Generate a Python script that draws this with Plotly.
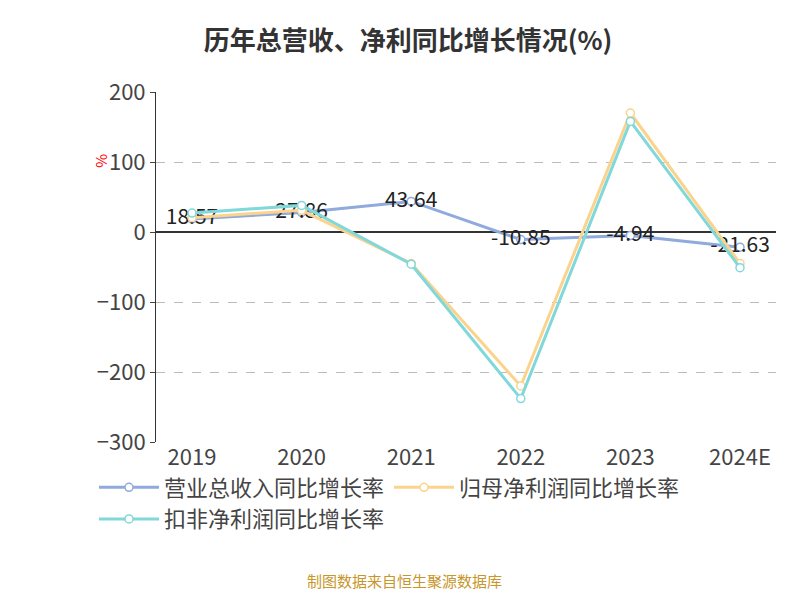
import plotly.graph_objects as go

years = ["2019", "2020", "2021", "2022", "2023", "2024E"]
revenue = [18.57, 27.86, 43.64, -10.85, -4.94, -21.63]
net_profit = [20.5, 31.0, -45.0, -220.0, 170.0, -45.0]
deducted = [27.0, 38.0, -46.0, -238.0, 158.0, -51.0]

fig = go.Figure()
fig.add_trace(go.Scatter(x=years, y=revenue, name="营业总收入同比增长率", mode="lines+markers+text",
                         text=[f"{v:.2f}" for v in revenue], textposition="middle center",
                         textfont=dict(size=21, color="#222"),
                         line=dict(color="#8faadc", width=3),
                         marker=dict(size=8, color="white", line=dict(color="#8faadc", width=1.5))))
fig.add_trace(go.Scatter(x=years, y=net_profit, name="归母净利润同比增长率", mode="lines+markers",
                         line=dict(color="#fbd38d", width=3),
                         marker=dict(size=8, color="white", line=dict(color="#fbd38d", width=1.5))))
fig.add_trace(go.Scatter(x=years, y=deducted, name="扣非净利润同比增长率", mode="lines+markers",
                         line=dict(color="#80d8db", width=3),
                         marker=dict(size=8, color="white", line=dict(color="#80d8db", width=1.5))))

fig.update_layout(
    width=800, height=600,
    plot_bgcolor="white", paper_bgcolor="white",
    font=dict(family="Noto Sans CJK SC", color="#333"),
    title=dict(text="<b>历年总营收、净利同比增长情况(%)</b>", x=0.5, y=0.96, xanchor="center",
               font=dict(size=26, color="#333")),
    margin=dict(l=148, r=32, t=84, b=166),
    showlegend=True,
    legend=dict(orientation="h", x=-0.1, y=-0.07, xanchor="left", yanchor="top",
                font=dict(size=22, color="#444"), itemwidth=60, tracegroupgap=10),
    xaxis=dict(showgrid=False, showline=False, ticks="", tickfont=dict(size=22, color="#444"),
               zeroline=False),
    yaxis=dict(range=[-300, 200], dtick=100, showgrid=True, gridcolor="#bbb", griddash="dash",
               showline=True, linecolor="#333", ticks="outside", tickfont=dict(size=22, color="#444"),
               zeroline=True, zerolinecolor="#333", zerolinewidth=1.5),
    annotations=[
        dict(text="%", xref="paper", yref="paper", x=-0.11, y=0.83, showarrow=False, textangle=-90,
             font=dict(size=15, color="red")),
        dict(text="制图数据来自恒生聚源数据库", xref="paper", yref="paper", x=0.4, y=-0.43,
             showarrow=False, font=dict(size=15, color="#c8962a")),
    ],
)
fig.write_html("out.html")
